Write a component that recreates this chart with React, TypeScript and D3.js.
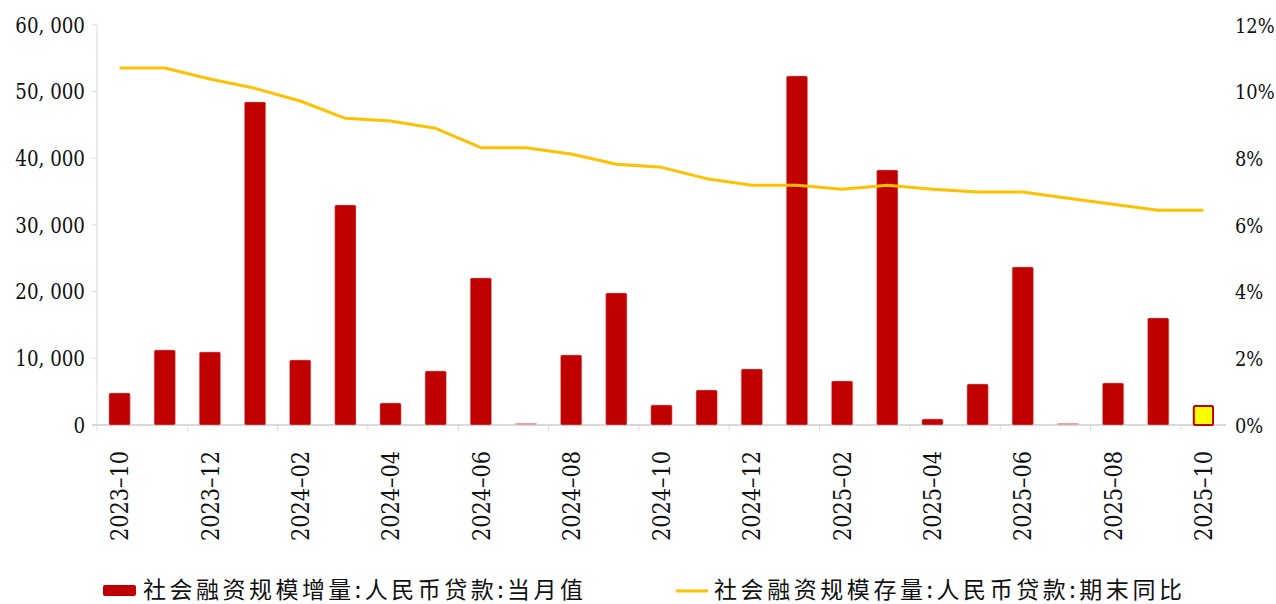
import React, { useEffect, useRef } from 'react';
import * as d3 from 'd3';

const months = [
  '2023-10', '2023-11', '2023-12', '2024-01', '2024-02', '2024-03', '2024-04', '2024-05', '2024-06',
  '2024-07', '2024-08', '2024-09', '2024-10', '2024-11', '2024-12', '2025-01', '2025-02', '2025-03',
  '2025-04', '2025-05', '2025-06', '2025-07', '2025-08', '2025-09', '2025-10',
];
// 社会融资规模增量:人民币贷款:当月值 (亿元)
const loanIncrease = [
  4800, 11250, 10950, 48450, 9750, 33000, 3300, 8100, 22050,
  -700, 10500, 19800, 3000, 5250, 8400, 52350, 6600, 38250,
  900, 6150, 23700, -4300, 6300, 16050, 3000,
];
// 社会融资规模存量:人民币贷款:期末同比 (%)
const stockYoY = [
  10.71, 10.71, 10.38, 10.1, 9.72, 9.2, 9.12, 8.9, 8.32,
  8.32, 8.13, 7.82, 7.73, 7.39, 7.19, 7.19, 7.07, 7.19,
  7.07, 6.99, 6.99, 6.8, 6.62, 6.44, 6.44,
];
const leftTicks = [0, 10000, 20000, 30000, 40000, 50000, 60000];
const rightTicks = [0, 2, 4, 6, 8, 10, 12];
const legendBar = '社会融资规模增量:人民币贷款:当月值';
const legendLine = '社会融资规模存量:人民币贷款:期末同比';

const RED = '#C00000';
const GOLD = '#FFC000';
const AXIS = '#d9d9d9';
const SERIF = "'DejaVu Serif', serif";
const CJK = "'Noto Sans CJK SC', sans-serif";

const App: React.FC = () => {
  const svgRef = useRef<SVGSVGElement>(null);

  useEffect(() => {
    if (!svgRef.current) return;
    const width = 1276;
    const height = 604;
    const left = 97;
    const right = 1226;
    const top = 25;
    const bottom = 425;

    const svg = d3.select(svgRef.current).attr('width', width).attr('height', height).html('');

    const x = d3.scaleBand<string>().domain(months).range([left, right]).paddingInner(0.53).paddingOuter(0.265);
    const xc = d3.scaleBand<string>().domain(months).range([left, right]);
    const yL = d3.scaleLinear().domain([0, 60000]).range([bottom, top]);
    const yR = d3.scaleLinear().domain([0, 12]).range([bottom, top]);

    // left axis
    svg.append('line').attr('x1', left).attr('x2', left).attr('y1', top).attr('y2', bottom)
      .attr('stroke', AXIS).attr('stroke-width', 1);
    leftTicks.forEach(t => {
      svg.append('line').attr('x1', left - 5).attr('x2', left).attr('y1', yL(t)).attr('y2', yL(t))
        .attr('stroke', AXIS);
      svg.append('text').attr('transform', `translate(85,${yL(t)}) scale(0.85,1)`).attr('dy', '0.36em')
        .attr('text-anchor', 'end').style('font-family', SERIF).attr('font-size', 21.5).attr('fill', '#111')
        .text(d3.format(',')(t).replace(',', ', '));
    });

    // right labels
    rightTicks.forEach(t => {
      svg.append('text').attr('transform', `translate(1235,${yR(t)}) scale(0.85,1)`).attr('dy', '0.36em')
        .attr('text-anchor', 'start').style('font-family', SERIF).attr('font-size', 21).attr('fill', '#111')
        .text(`${t}%`);
    });

    // bottom axis
    svg.append('line').attr('x1', left - 5).attr('x2', right).attr('y1', bottom).attr('y2', bottom)
      .attr('stroke', AXIS).attr('stroke-width', 2);
    months.forEach((m, i) => {
      if (i % 2 !== 0) return;
      const bx = xc(m)!;
      svg.append('line').attr('x1', bx).attr('x2', bx).attr('y1', bottom).attr('y2', bottom + 6)
        .attr('stroke', AXIS);
      const cx = bx + xc.bandwidth() / 2;
      svg.append('text').attr('transform', `translate(${cx},451) rotate(-90) scale(0.87,1)`).attr('dy', '0.36em')
        .attr('text-anchor', 'end').style('font-family', SERIF).attr('font-size', 24).attr('fill', '#111')
        .text(m.replace('-', '–'));
    });

    // bars
    months.forEach((m, i) => {
      const v = loanIncrease[i];
      const last = i === months.length - 1;
      if (v <= 0) {
        svg.append('rect').attr('x', x(m)!).attr('y', yL(0) - 2).attr('width', x.bandwidth()).attr('height', 2)
          .attr('fill', '#eba4a4');
        return;
      }
      svg.append('rect')
        .attr('x', x(m)! + (last ? 1 : 0)).attr('y', yL(v) + (last ? 1 : 0))
        .attr('width', x.bandwidth() - (last ? 2 : 0)).attr('height', yL(0) - yL(v) - (last ? 1 : 0))
        .attr('rx', 1.5)
        .attr('fill', last ? '#FFFF00' : RED)
        .attr('stroke', last ? RED : '#e3a0a0').attr('stroke-width', last ? 2 : 0.5);
    });

    // line
    const line = d3.line<number>()
      .x((d, i) => xc(months[i])! + xc.bandwidth() / 2)
      .y(d => yR(d));
    svg.append('path').datum(stockYoY).attr('d', line).attr('fill', 'none')
      .attr('stroke', GOLD).attr('stroke-width', 3).attr('stroke-linejoin', 'round');

    // legend
    svg.append('rect').attr('x', 103).attr('y', 585).attr('width', 33).attr('height', 11).attr('rx', 2)
      .attr('fill', RED);
    svg.append('text').attr('x', 143).attr('y', 590).attr('dy', '0.35em')
      .style('font-family', CJK).attr('font-size', 23).attr('fill', '#111')
      .attr('textLength', 440).attr('lengthAdjust', 'spacing').text(legendBar);
    svg.append('line').attr('x1', 676).attr('x2', 708).attr('y1', 591).attr('y2', 591)
      .attr('stroke', GOLD).attr('stroke-width', 3);
    svg.append('text').attr('x', 714).attr('y', 590).attr('dy', '0.35em')
      .style('font-family', CJK).attr('font-size', 23).attr('fill', '#111')
      .attr('textLength', 468).attr('lengthAdjust', 'spacing').text(legendLine);
  }, []);

  return (
    <div style={{ position: 'absolute', left: 0, top: 0, background: '#fff' }}>
      <svg ref={svgRef}></svg>
    </div>
  );
};

export default App;
